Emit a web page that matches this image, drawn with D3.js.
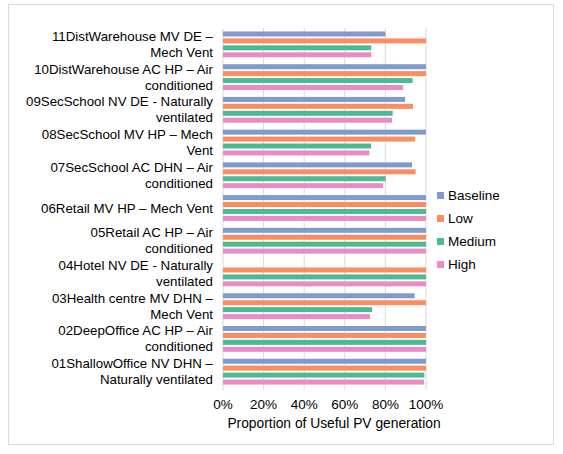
<!DOCTYPE html><html><head><meta charset="utf-8">
<script src="https://d3js.org/d3.v7.min.js"></script>
<style>body{margin:0;background:#fff}text{font-family:Arial,"Liberation Sans",sans-serif;fill:#000}</style></head><body>
<svg id="c" width="563" height="454"></svg>
<script>
const categories=[["11DistWarehouse MV DE –","Mech Vent"],["10DistWarehouse AC HP – Air","conditioned"],["09SecSchool NV DE - Naturally","ventilated"],["08SecSchool MV HP – Mech","Vent"],["07SecSchool AC DHN – Air","conditioned"],["06Retail MV HP – Mech Vent"],["05Retail AC HP – Air","conditioned"],["04Hotel NV DE - Naturally","ventilated"],["03Health centre MV DHN –","Mech Vent"],["02DeepOffice AC HP – Air","conditioned"],["01ShallowOffice NV DHN –","Naturally ventilated"]];
const seriesNames=["Baseline","Low","Medium","High"];
const baseline=[80,100,89.7,100,93.1,100,100,0,94.4,100,100];
const low=[100,100,93.6,94.7,94.9,100,100,100,100,100,100];
const medium=[73,93.4,83.6,72.9,80.1,100,100,100,73.4,100,99.2];
const high=[73,88.7,83.3,72.1,78.8,100,100,100,72.4,100,99];
const tickLabels=["0%","20%","40%","60%","80%","100%"];
const colors=["#7f9bcb","#fc8d62","#4cba94","#e98bc5"];
const series=[baseline,low,medium,high];
const svg=d3.select("#c");
svg.append("rect").attr("x",8.5).attr("y",4.5).attr("width",545).attr("height",440).attr("fill","none").attr("stroke","#d9d9d9");
const x=d3.scaleLinear().domain([0,100]).range([223,426]);
const y=d3.scaleBand().domain(d3.range(11)).range([28,388]);
const yi=d3.scaleBand().domain(d3.range(4)).range([0,y.bandwidth()]).paddingOuter(0.5).paddingInner(0.28);
svg.append("g").selectAll("line").data(d3.range(0,101,20)).join("line")
 .attr("x1",d=>x(d)).attr("x2",d=>x(d)).attr("y1",28).attr("y2",390).attr("stroke","#d9d9d9");
series.forEach((s,si)=>{
 svg.append("g").selectAll("rect").data(s).join("rect")
  .attr("x",x(0)).attr("y",(d,i)=>y(i)+yi(si)).attr("width",d=>x(d)-x(0)).attr("height",yi.bandwidth()).attr("fill",colors[si]);
});
svg.append("g").selectAll("text").data(tickLabels).join("text")
 .attr("x",(d,i)=>x(i*20)).attr("y",409).attr("text-anchor","middle").attr("font-size",13.5).text(d=>d);
svg.append("text").attr("x",334).attr("y",428).attr("text-anchor","middle").attr("font-size",13.8).text("Proportion of Useful PV generation");
categories.forEach((c,i)=>{
 const cy=y(i)+y.bandwidth()/2;
 const t=svg.append("text").attr("text-anchor","end").attr("font-size",13.3);
 c.forEach((l,j)=>t.append("tspan").attr("x",213).attr("y",cy+4.5+(j-(c.length-1)/2)*16).text(l));
});
seriesNames.forEach((n,i)=>{
 svg.append("rect").attr("x",437).attr("y",192+i*23).attr("width",7).attr("height",7).attr("fill",colors[i]);
 svg.append("text").attr("x",448).attr("y",200+i*23).attr("font-size",13.5).text(n);
});
</script></body></html>
